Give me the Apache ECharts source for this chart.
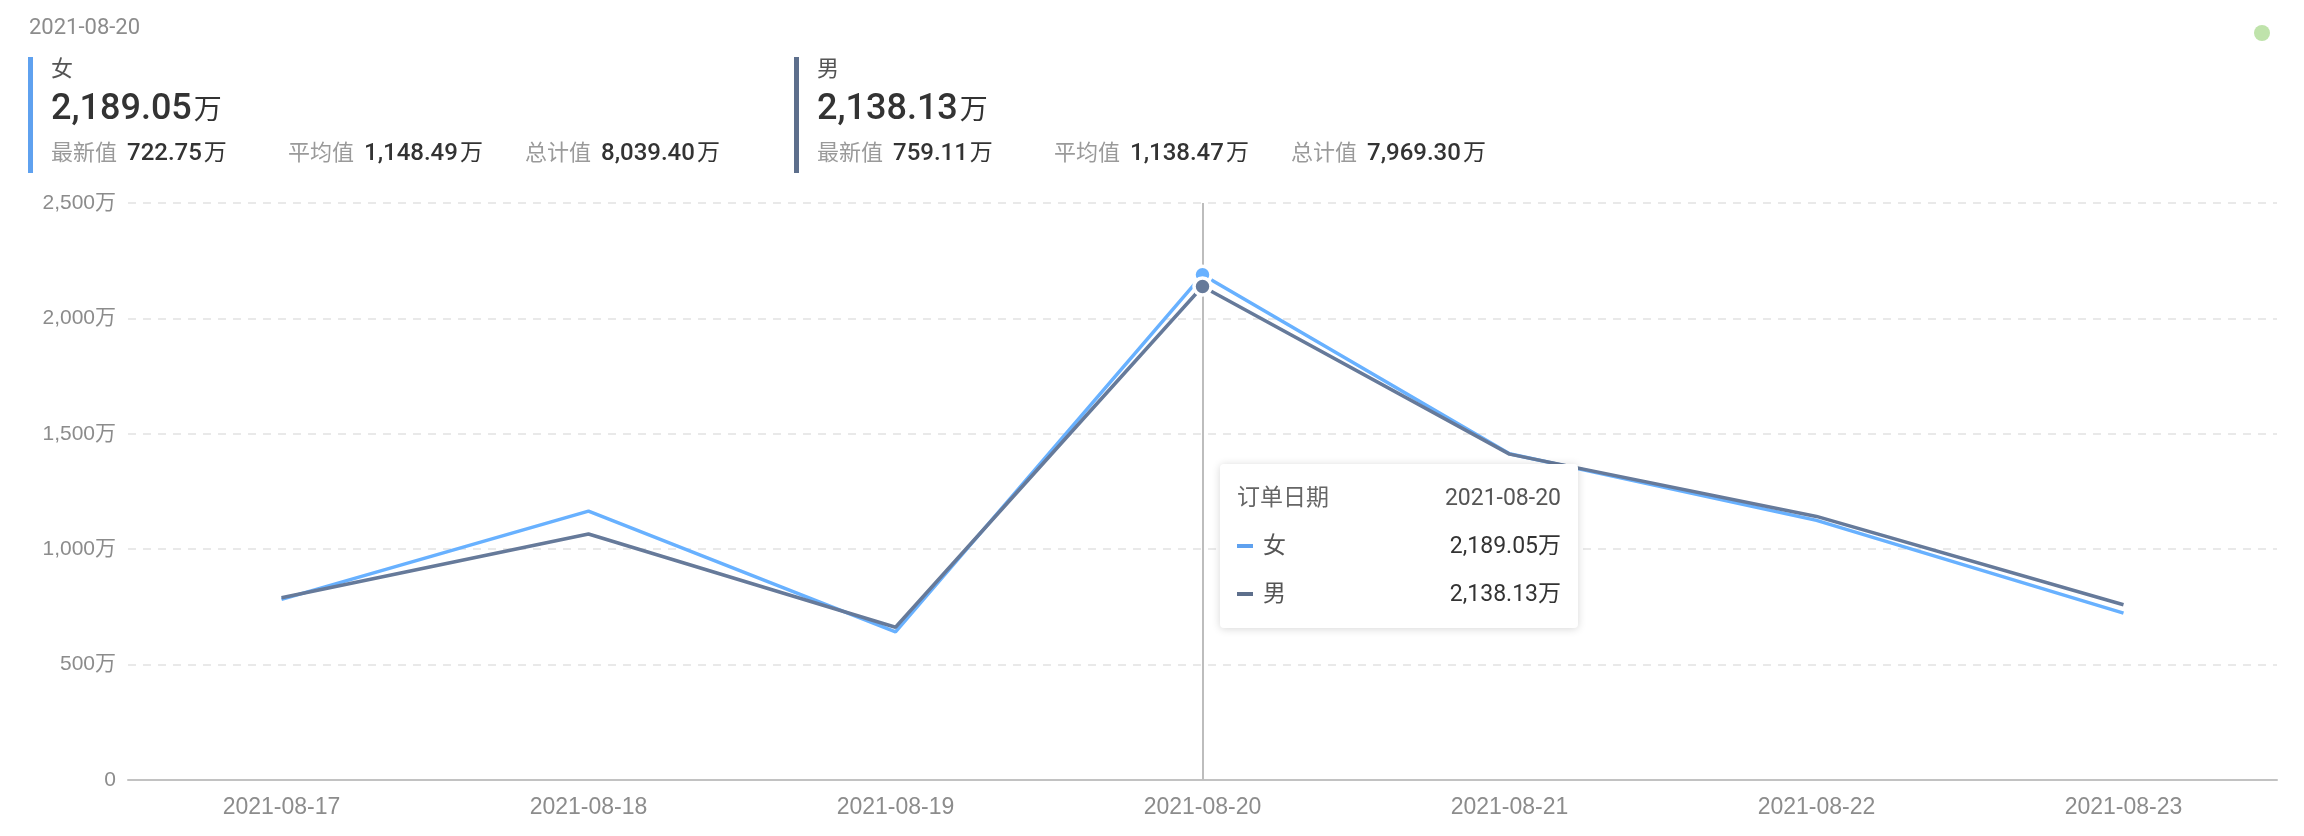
<!DOCTYPE html>
<html>
<head>
<meta charset="utf-8">
<script src="https://cdn.jsdelivr.net/npm/echarts@6/dist/echarts.min.js"></script>
<style>
html,body{margin:0;padding:0;background:#fff;}
#main{width:2304px;height:836px;}
</style>
</head>
<body>
<div id="main"></div>
<script>
// ---- data ----
const categories = ['2021-08-17','2021-08-18','2021-08-19','2021-08-20','2021-08-21','2021-08-22','2021-08-23'];
const femaleValues = [782.4, 1165.2, 641.6, 2189.05, 1413.4, 1125.0, 722.75];
const maleValues = [790.0, 1066.0, 662.0, 2138.13, 1412.0, 1142.06, 759.11];
const seriesNames = ['女', '男'];
const yTicks = [0, 500, 1000, 1500, 2000, 2500];
const dimensionName = '订单日期';
const focusIndex = 3;

const colors = ['#5fa1ef', '#5d6f8c'];
const FONT = 'Roboto, "Noto Sans CJK SC", sans-serif';
const AXIS_FONT = '"Liberation Sans", Arial, "Noto Sans CJK SC", sans-serif';

function fmt(v){ return v.toLocaleString('en-US',{minimumFractionDigits:2, maximumFractionDigits:2}); }
function fmtInt(v){ return v === 0 ? '0' : v.toLocaleString('en-US') + '万'; }

const allSeries = [femaleValues, maleValues];
const stats = allSeries.map(arr => {
  const total = arr.reduce((a,b)=>a+b,0);
  return {cur: arr[focusIndex], latest: arr[arr.length-1], avg: total/arr.length, total: total};
});

const chart = echarts.init(document.getElementById('main'), null, {renderer:'canvas'});

// header graphics
const graphics = [];
graphics.push({type:'text', left:29, top:17, style:{text:categories[focusIndex], fill:'#8c8c8c', font:'22px '+FONT}});
graphics.push({type:'circle', shape:{cx:2262, cy:33, r:8}, style:{fill:'#bfe3ab'}});
const blockX = [28, 794];
stats.forEach((s, i) => {
  const x = blockX[i];
  graphics.push({type:'rect', shape:{x:x, y:57, width:5, height:116}, style:{fill:colors[i]}});
  graphics.push({type:'text', x:x+23, y:70, style:{text:seriesNames[i], fill:'#555', font:'22px '+FONT, verticalAlign:'middle'}});
  graphics.push({type:'text', x:x+23, y:110, style:{
    text:'{n|'+fmt(s.cur)+'}{u|万}', verticalAlign:'middle',
    rich:{n:{fontSize:36, fontWeight:500, fill:'#333', fontFamily:FONT}, u:{fontSize:28, fill:'#333', fontFamily:FONT, padding:[4,0,0,2]}}
  }});
  const items = [['最新值', s.latest], ['平均值', s.avg], ['总计值', s.total]];
  items.forEach((it, j) => {
    graphics.push({type:'text', x:x+23+j*237, y:154, style:{
      text:'{l|'+it[0]+'}{v|'+fmt(it[1])+'}{u|万}', verticalAlign:'middle',
      rich:{l:{fontSize:22, fill:'#9a9a9a', fontFamily:FONT},
            v:{fontSize:24, fontWeight:500, fill:'#333', fontFamily:FONT, padding:[0,2,0,10]},
            u:{fontSize:23, fill:'#333', fontFamily:FONT}}
    }});
  });
});

const option = {
  animation:false,
  color: colors,
  grid:{left:128, right:27, top:203, bottom:56, containLabel:false},
  tooltip:{
    trigger:'axis',
    triggerOn:'none',
    alwaysShowContent:true,
    backgroundColor:'#fff',
    borderWidth:0,
    padding:0,
    extraCssText:'box-shadow:0 1px 8px rgba(0,0,0,0.16);border-radius:4px;',
    position: function(){ return [1220, 464]; },
    axisPointer:{type:'line', z:1, lineStyle:{color:'#bdbdbd', width:2, type:'solid'}},
    formatter: function(params){
      let h = '<div style="width:324px;padding:20px 17px;font-family:Roboto,\'Noto Sans CJK SC\',sans-serif;font-size:23px;line-height:28px;">';
      h += '<div style="display:flex;justify-content:space-between;"><span style="color:#666">'+dimensionName+'</span><span style="color:#555">'+params[0].name+'</span></div>';
      params.forEach(p => {
        h += '<div style="display:flex;justify-content:space-between;align-items:center;margin-top:20px;">'+
             '<span style="display:flex;align-items:center;color:#555"><span style="display:inline-block;width:16px;height:4px;background:'+p.color+';margin-right:10px;"></span>'+p.seriesName+'</span>'+
             '<span style="color:#333">'+fmt(p.value)+'万</span></div>';
      });
      h += '</div>';
      return h;
    }
  },
  xAxis:{
    type:'category',
    data:categories,
    boundaryGap:true,
    axisLine:{lineStyle:{color:'#c2c2c2', width:2}},
    axisTick:{alignWithLabel:true, length:7, lineStyle:{color:'#c8c8c8', width:2}},
    axisLabel:{color:'#8c8c8c', fontSize:23, fontFamily:AXIS_FONT, margin:16}
  },
  yAxis:{
    type:'value',
    min:yTicks[0], max:yTicks[yTicks.length-1], interval:yTicks[1]-yTicks[0],
    axisLine:{show:false}, axisTick:{show:false},
    axisLabel:{color:'#8c8c8c', fontSize:21, fontFamily:AXIS_FONT, margin:12, formatter:fmtInt},
    splitLine:{lineStyle:{color:'#e9e9e9', width:2, type:[8,7]}}
  },
  series: seriesNames.map((n, i) => ({
    name:n, type:'line', data:allSeries[i], z:5,
    showSymbol:true, symbol:'circle',
    symbolSize: function(v, p){ return p.dataIndex === focusIndex ? 17 : 0; },
    lineStyle:{width:3.5},
    itemStyle:{borderColor:'#fff', borderWidth:3.5},
    emphasis:{scale:false, lineStyle:{width:3.5}, itemStyle:{borderColor:'#fff', borderWidth:3.5}}
  })),
  graphic: graphics
};
chart.setOption(option);
chart.dispatchAction({type:'showTip', seriesIndex:0, dataIndex:focusIndex});
</script>
</body>
</html>
